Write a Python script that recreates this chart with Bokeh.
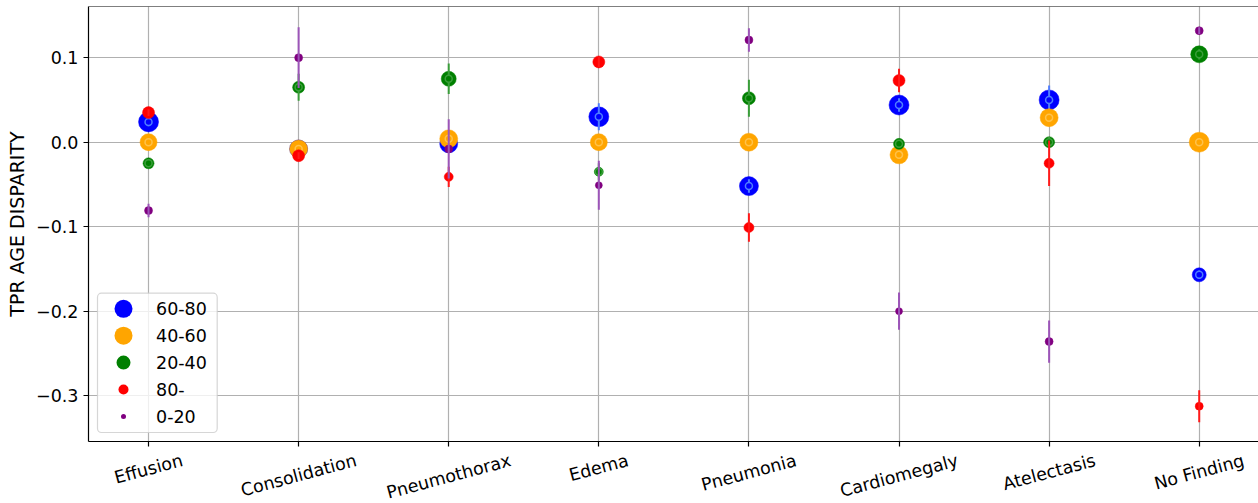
import math
import numpy as np
from bokeh.plotting import figure
from bokeh.layouts import column
from bokeh.models import Range1d, FixedTicker, CustomJSTickFormatter, BoxAnnotation, Span
from bokeh.core.properties import value
from bokeh.embed import file_html
from bokeh.resources import INLINE

# ---- data -------------------------------------------------------------
findings = ["Effusion", "Consolidation", "Pneumothorax", "Edema", "Pneumonia",
            "Cardiomegaly", "Atelectasis", "No Finding"]
y_ticks = [-0.3, -0.2, -0.1, 0.0, 0.1]

age_groups = ["60-80", "40-60", "20-40", "80-", "0-20"]

gap_60_80 = [0.024, -0.008, -0.002, 0.030, -0.052, 0.044, 0.050, -0.157]
err_60_80 = [0.005, 0.006, 0.006, 0.016, 0.008, 0.008, 0.017, 0.005]
size_60_80 = [20, 18, 18, 20, 19, 20, 20, 14]

gap_40_60 = [0.000, -0.008, 0.004, 0.000, 0.000, -0.015, 0.029, 0.000]
err_40_60 = [0.002, 0.003, 0.004, 0.002, 0.002, 0.004, 0.004, 0.002]
size_40_60 = [17, 18, 18, 17, 18, 18, 18, 20]

gap_20_40 = [-0.025, 0.065, 0.075, -0.035, 0.052, -0.002, 0.000, 0.104]
err_20_40 = [0.004, 0.016, 0.018, 0.010, 0.022, 0.004, 0.006, 0.006]
size_20_40 = [11, 12, 15, 9, 13, 11, 11, 17]

gap_80 = [0.035, -0.016, -0.041, 0.095, -0.101, 0.073, -0.025, -0.3125]
err_80 = [0.004, 0.004, 0.012, 0.006, 0.017, 0.014, 0.027, 0.019]
size_80 = [12, 12, 9, 12, 10, 12, 10, 8]

gap_0_20 = [-0.081, 0.100, -0.008, -0.051, 0.121, -0.200, -0.236, 0.132]
err_0_20 = [0.008, 0.036, 0.035, 0.029, 0.014, 0.022, 0.025, 0.004]
size_0_20 = [8, 8, 8, 7, 8, 7, 8, 8]

legend_sizes = [18, 18, 14, 10, 5]

# ---- styling ----------------------------------------------------------
FONT = "DejaVu Sans"
FS = "17.5px"
W = 1258
LEFT, TOP = 88, 6
FRAME_H = 435
H1 = TOP + FRAME_H + 6        # main panel (frame + tick marks)
H2 = 503 - H1                 # strip holding the rotated category names
FW = W - LEFT
Y_LO, Y_HI = -0.3543, 0.1606
X_LO, X_HI = -0.40, 7.395

series = [
    # (values, errors, sizes, colour, light colour, inner ring)
    (gap_60_80, err_60_80, size_60_80, "#0000ff", "#4f7dff", True),
    (gap_40_60, err_40_60, size_40_60, "#ffa500", "#ffc24a", True),
    (gap_20_40, err_20_40, size_20_40, "#008000", "#3a9e3a", True),
    (gap_80, err_80, size_80, "#ff0000", "#ff1a1a", False),
    (gap_0_20, err_0_20, size_0_20, "#800080", "#9c55b8", False),
]

p = figure(width=W, height=H1, output_backend="svg", toolbar_location=None,
           x_range=Range1d(X_LO, X_HI), y_range=Range1d(Y_LO, Y_HI),
           min_border_left=LEFT, min_border_right=0,
           min_border_top=TOP, min_border_bottom=H1 - TOP - FRAME_H)
p.extra_x_ranges = {"px": Range1d(0, FW)}
p.extra_y_ranges = {"px": Range1d(0, FRAME_H)}

# left and bottom spines come from the axes; the top spine is a span
p.outline_line_color = None
p.background_fill_color = "white"
p.border_fill_color = "white"
p.add_layout(Span(location=Y_HI, dimension="width",
                  line_color="black", line_width=1.2))

xs = np.arange(len(findings))

p.xaxis.ticker = FixedTicker(ticks=list(xs))
p.xaxis.formatter = CustomJSTickFormatter(code="return ''")
p.yaxis.ticker = FixedTicker(ticks=y_ticks)
p.yaxis.formatter = CustomJSTickFormatter(
    code="return tick.toFixed(1).replace('-', '\u2212')")
for ax in (p.xaxis[0], p.yaxis[0]):
    ax.axis_line_color = "black"
    ax.axis_line_width = 1.2
    ax.major_tick_line_color = "black"
    ax.major_tick_line_width = 1.2
    ax.major_tick_out = 5
    ax.major_tick_in = 0
    ax.minor_tick_line_color = None
    ax.major_label_text_font = FONT
    ax.major_label_text_font_size = FS
    ax.major_label_text_color = "black"
    ax.major_label_standoff = 5
p.xaxis.major_label_text_font_size = "0px"
p.xaxis.major_label_standoff = 0
p.yaxis.axis_label = "TPR AGE DISPARITY"
p.yaxis.axis_label_text_font = FONT
p.yaxis.axis_label_text_font_size = "19px"
p.yaxis.axis_label_text_font_style = "normal"
p.yaxis.axis_label_text_color = "black"
p.yaxis.axis_label_standoff = 5

for g in p.grid:
    g.grid_line_color = "#b0b0b0"
    g.grid_line_width = 1.2

# ---- points with error bars ---------------------------------------------
for vals, errs, sizes, col, light, ring in series:
    v = np.array(vals)
    e = np.array(errs)
    p.scatter(xs, v, size=sizes, fill_color=col, line_color=col, line_width=0.5)
    p.segment(xs, v - e, xs, v + e, line_color=light, line_width=2)
    if ring:
        p.scatter(xs, v, size=7, fill_color=col, line_color=light, line_width=1.5)

# ---- legend --------------------------------------------------------------
p.add_layout(BoxAnnotation(left=9, right=128.7, bottom=9, top=148.3,
                           x_range_name="px", y_range_name="px",
                           fill_color="white", fill_alpha=0.8,
                           line_color="#cccccc", line_alpha=0.8, line_width=1.2,
                           border_radius=4))
row_y = 132.7 - 26.9 * np.arange(len(age_groups))
p.scatter(np.full(len(age_groups), 35.0), row_y, size=legend_sizes,
          fill_color=[s[3] for s in series], line_color=None,
          x_range_name="px", y_range_name="px", level="overlay")
p.text(np.full(len(age_groups), 67.5), row_y, text=age_groups,
       text_font=value(FONT), text_font_size=value(FS),
       text_baseline="middle", text_align="left", text_color="black",
       x_range_name="px", y_range_name="px", level="overlay")

# ---- rotated category names in a strip under the axis ---------------------
em = {"E": .632, "f": .352, "u": .634, "s": .521, "i": .278, "o": .612,
      "n": .634, "C": .698, "l": .278, "d": .635, "a": .613, "t": .392,
      "P": .603, "e": .615, "m": .974, "h": .634, "r": .411, "x": .592,
      "g": .635, "y": .592, "A": .684, "c": .550, "N": .748, "F": .575,
      " ": .318}
fs = 17.5
ang = math.radians(15)
label_y = []
for name in findings:
    w = sum(em.get(ch, .6) for ch in name) * fs
    half = (w * math.sin(ang) + 20.4 * math.cos(ang)) / 2
    centre_from_top = (TOP + FRAME_H + 8.5 + half) - H1
    label_y.append(H2 - centre_from_top)

p2 = figure(width=W, height=H2, output_backend="svg", toolbar_location=None,
            x_range=p.x_range, y_range=Range1d(0, H2),
            x_axis_location=None, y_axis_location=None,
            min_border_left=LEFT, min_border_right=0,
            min_border_top=0, min_border_bottom=0)
p2.outline_line_color = None
p2.grid.visible = False
p2.background_fill_color = "white"
p2.border_fill_color = "white"
p2.text(xs, label_y, text=findings, angle=15, angle_units="deg",
        text_align="center", text_baseline="middle",
        text_font=value(FONT), text_font_size=value(FS), text_color="black")

layout = column(p, p2, spacing=0)
open("out.html", "w").write(file_html(layout, INLINE))
